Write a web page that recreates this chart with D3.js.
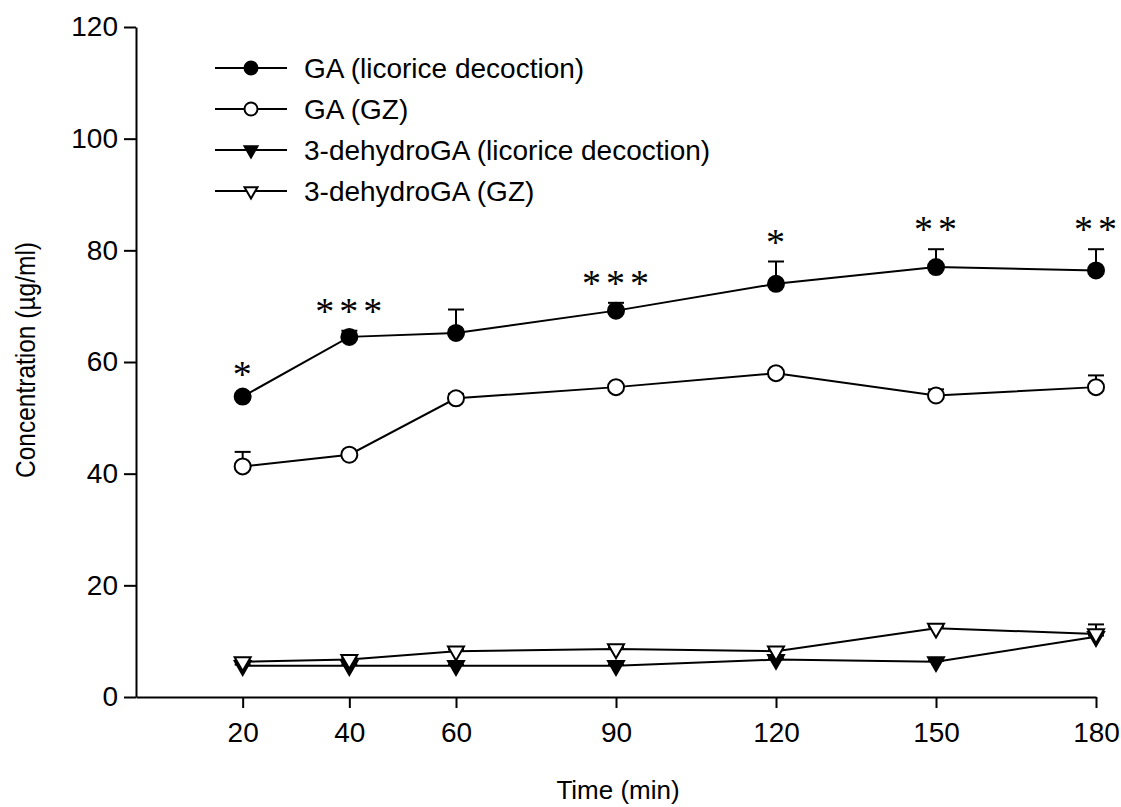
<!DOCTYPE html>
<html>
<head>
<meta charset="utf-8">
<script src="https://cdn.jsdelivr.net/npm/d3@7"></script>
<style>
  html, body { margin: 0; padding: 0; background: #fff; }
  svg { display: block; }
</style>
</head>
<body>
<svg id="chart" width="1121" height="807"></svg>
<script>
// Sampling times (min)
const times = [20, 40, 60, 90, 120, 150, 180];

// Mean plasma concentrations (µg/ml) and upper error (SD)
const gaLicorice      = [53.8, 64.5, 65.2, 69.2, 74.0, 77.0, 76.4];
const gaLicoriceErr   = [0.5, 1.1, 4.2, 1.4, 4.0, 3.2, 3.8];
const gaGZ            = [41.3, 43.4, 53.5, 55.5, 58.0, 54.0, 55.5];
const gaGZErr         = [2.6, 0.3, 0.8, 0.3, 0.3, 1.1, 2.1];
const dhLicorice      = [5.6, 5.6, 5.6, 5.6, 6.7, 6.3, 10.8];
const dhLicoriceErr   = [0.2, 0.2, 0.2, 0.2, 0.2, 0.2, 0.2];
const dhGZ            = [6.3, 6.7, 8.2, 8.6, 8.2, 12.3, 11.3];
const dhGZErr         = [0.3, 0.3, 0.3, 0.3, 0.3, 0.3, 1.7];

// Significance marks placed over the licorice-decoction GA series
const significance = ["*", "***", "", "***", "*", "**", "**"];

const seriesNames = [
  "GA (licorice decoction)",
  "GA (GZ)",
  "3-dehydroGA (licorice decoction)",
  "3-dehydroGA (GZ)"
];

const xTicks = [20, 40, 60, 90, 120, 150, 180];
const yTicks = [0, 20, 40, 60, 80, 100, 120];

const series = [
  { name: seriesNames[0], values: gaLicorice, err: gaLicoriceErr, shape: "circle",   fill: "#000" },
  { name: seriesNames[1], values: gaGZ,       err: gaGZErr,       shape: "circle",   fill: "#fff" },
  { name: seriesNames[2], values: dhLicorice, err: dhLicoriceErr, shape: "triangle", fill: "#000" },
  { name: seriesNames[3], values: dhGZ,       err: dhGZErr,       shape: "triangle", fill: "#fff" }
];

const svg = d3.select("#chart");
const font = "'Liberation Sans', Arial, sans-serif";

const x = d3.scaleLinear().domain([0, 180]).range([136, 1096]);
const y = d3.scaleLinear().domain([0, 120]).range([697, 27]);

// Axes
const xAxis = svg.append("g")
  .attr("transform", `translate(0,${y(0)})`)
  .call(d3.axisBottom(x).tickValues(xTicks).tickSize(11).tickPadding(14).tickSizeOuter(0));
const yAxis = svg.append("g")
  .attr("transform", `translate(${x(0)},0)`)
  .call(d3.axisLeft(y).tickValues(yTicks).tickSize(12).tickPadding(6).tickSizeOuter(0));

[xAxis, yAxis].forEach(g => {
  g.select(".domain").attr("stroke", "#000").attr("stroke-width", 2);
  g.selectAll(".tick line").attr("stroke", "#000").attr("stroke-width", 2);
  g.selectAll(".tick text")
    .attr("fill", "#000")
    .style("font-family", font)
    .style("font-size", "28px");
});

// Axis titles
svg.append("text")
  .attr("x", 618).attr("y", 799)
  .attr("text-anchor", "middle")
  .style("font-family", font).style("font-size", "26px")
  .text("Time (min)");

svg.append("text")
  .attr("transform", `translate(35,360) rotate(-90)`)
  .attr("text-anchor", "middle")
  .attr("textLength", 236)
  .attr("lengthAdjust", "spacingAndGlyphs")
  .style("font-family", font).style("font-size", "28px")
  .text("Concentration (\u00B5g/ml)");

const tri = (size) => d3.symbol().type(d3.symbolTriangle).size(size)();

function drawMarker(g, shape, fill, r) {
  if (shape === "circle") {
    g.append("circle").attr("r", r)
      .attr("fill", fill).attr("stroke", "#000").attr("stroke-width", 2);
  } else {
    const side = r * 2;
    g.append("path")
      .attr("d", tri(side * side * Math.sqrt(3) / 4))
      .attr("transform", "rotate(180)")
      .attr("fill", fill).attr("stroke", "#000").attr("stroke-width", 2);
  }
}

const line = d3.line().x(d => x(d.t)).y(d => y(d.v));

series.forEach(s => {
  const pts = times.map((t, i) => ({ t, v: s.values[i], e: s.err[i] }));
  const g = svg.append("g");

  // Upper error bars
  pts.forEach(p => {
    g.append("line")
      .attr("x1", x(p.t)).attr("x2", x(p.t))
      .attr("y1", y(p.v)).attr("y2", y(p.v + p.e))
      .attr("stroke", "#000").attr("stroke-width", 2);
    g.append("line")
      .attr("x1", x(p.t) - 8).attr("x2", x(p.t) + 8)
      .attr("y1", y(p.v + p.e)).attr("y2", y(p.v + p.e))
      .attr("stroke", "#000").attr("stroke-width", 2);
  });

  g.append("path")
    .datum(pts)
    .attr("d", line)
    .attr("fill", "none")
    .attr("stroke", "#000")
    .attr("stroke-width", 2);

  pts.forEach(p => {
    const m = g.append("g").attr("transform", `translate(${x(p.t)},${y(p.v)})`);
    drawMarker(m, s.shape, s.fill, 8);
  });
});

// Significance asterisks above GA (licorice decoction)
svg.append("g").selectAll("text")
  .data(times.map((t, i) => ({ t, top: gaLicorice[i] + gaLicoriceErr[i], label: significance[i] })))
  .join("text")
  .attr("x", d => x(d.t) + 2)
  .attr("y", d => y(d.top) - 7)
  .attr("text-anchor", "middle")
  .attr("letter-spacing", "5px")
  .style("font-family", "'Liberation Serif', serif")
  .style("font-size", "38px")
  .text(d => d.label);

// Legend
const legend = svg.append("g");
series.forEach((s, i) => {
  const ly = 68 + i * 41;
  const row = legend.append("g").attr("transform", `translate(0,${ly})`);
  row.append("line").attr("x1", 215).attr("x2", 287).attr("y1", 0).attr("y2", 0)
    .attr("stroke", "#000").attr("stroke-width", 2);
  const m = row.append("g").attr("transform", "translate(251,0)");
  drawMarker(m, s.shape, s.fill, 6.5);
  row.append("text")
    .attr("x", 304).attr("y", 0).attr("dy", "0.36em")
    .style("font-family", font).style("font-size", "28px")
    .text(s.name);
});
</script>
</body>
</html>
